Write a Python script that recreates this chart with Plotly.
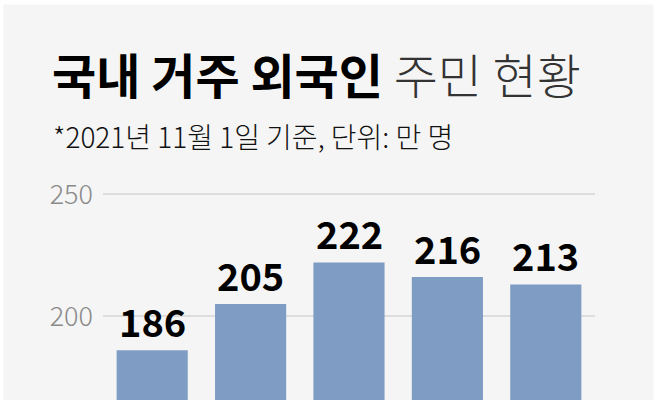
import plotly.graph_objects as go

years = ["2017년", "2018년", "2019년", "2020년", "2021년"]
residents = [186, 205, 222, 216, 213]
y_ticks = [200, 250]

title_bold = "국내 거주 외국인"
title_light = "주민 현황"
subtitle = "*2021년 11월 1일 기준, 단위: 만 명"

FONT = "Noto Sans CJK KR"

# plot area in pixels (chart is cut at the bottom edge)
L, R, T, B = 103.4, 594.6, 192.8, 400.0
W, H = R - L, B - T


def px(x):
    return (x - L) / W


def py(y):
    return (B - y) / H


fig = go.Figure()
fig.add_trace(go.Bar(
    x=years,
    y=residents,
    marker=dict(color="#7f9cc5", line=dict(width=0)),
    hoverinfo="x+y",
))

# value labels above bars
for yr, v in zip(years, residents):
    fig.add_annotation(
        x=yr, y=v, xref="x", yref="y",
        text=str(v), showarrow=False,
        yanchor="bottom", yshift=0,
        font=dict(family=FONT, size=38, color="#000000", weight="bold"),
    )

fig.add_annotation(
    x=px(50), y=py(73), xref="paper", yref="paper",
    xanchor="left", yanchor="middle", showarrow=False,
    text=f"<b>{title_bold}</b> <span style='font-weight:300;color:#333333'>{title_light}</span>",
    font=dict(family=FONT, size=48, color="#000000"),
)
fig.add_annotation(
    x=px(51), y=py(135.5), xref="paper", yref="paper",
    xanchor="left", yanchor="middle", showarrow=False,
    text=subtitle,
    font=dict(family=FONT, size=28, color="#111111", weight=300),
)

# light grey panel
fig.add_shape(
    type="rect", xref="paper", yref="paper", layer="below",
    x0=px(4), x1=px(653), y0=py(410), y1=py(4),
    fillcolor="#f5f5f5", line=dict(width=0),
)

fig.update_layout(
    width=659, height=400,
    margin=dict(l=L, r=659 - R, t=T, b=0, pad=0),
    paper_bgcolor="#ffffff",
    plot_bgcolor="rgba(0,0,0,0)",
    bargap=0.277,
    showlegend=False,
    xaxis=dict(type="category", range=[-0.5, len(years) - 0.5],
               showticklabels=False, showgrid=False,
               zeroline=False, showline=False, ticks=""),
    yaxis=dict(range=[165.6, 250.5], tickvals=y_ticks, showgrid=True,
               gridcolor="#dddddd", gridwidth=1.5, zeroline=False,
               showline=False, ticks="", ticklabelstandoff=9,
               tickfont=dict(family=FONT, size=27, color="#8a8a8a", weight=300)),
)

fig.write_html("out.html", config={"displayModeBar": False},
               post_script="document.body.style.margin='0';")
